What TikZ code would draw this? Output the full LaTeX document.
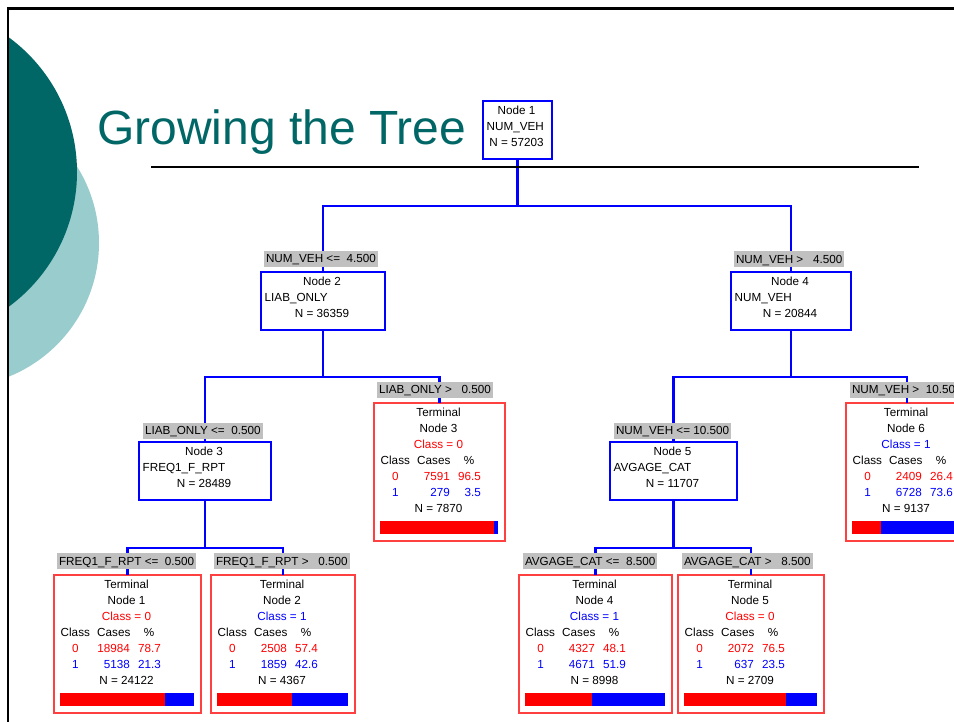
\documentclass[tikz,border=0pt]{standalone}
\usepackage{fontspec}
\setmainfont{Liberation Sans}

\definecolor{tealdark}{RGB}{0,102,102}
\definecolor{teallight}{RGB}{153,204,204}
\definecolor{lblgray}{RGB}{192,192,192}
\definecolor{treeblue}{RGB}{0,0,255}
\definecolor{treered}{RGB}{255,0,0}
\definecolor{termred}{RGB}{255,64,64}

\tikzset{
  txt/.style={inner sep=0pt, anchor=base, font=\fontsize{11.7}{14}\selectfont},
  splitbox/.style={draw=treeblue, line width=2.2pt, fill=white, inner sep=0pt, outer sep=0pt},
  termbox/.style={draw=termred, line width=1.3pt, fill=white, inner sep=0pt, outer sep=0pt},
  cond/.style={fill=lblgray, anchor=west, inner xsep=2pt, inner ysep=0pt,
    text height=8.5pt, text depth=0pt, minimum height=16pt, outer sep=0pt,
    font=\fontsize{11.7}{14}\selectfont},
  conn/.style={draw=treeblue, line width=2.2pt},
}

% split node: name, left, top, right, title, variable, count
\newcommand{\splitnode}[7]{%
  \pgfmathsetmacro\sL{#2}\pgfmathsetmacro\sT{#3}%
  \pgfmathsetmacro\sW{#4-#2}\pgfmathsetmacro\sC{(#2+#4)/2-1}%
  \node[splitbox, minimum width=\sW pt, minimum height=58pt, anchor=north west] (#1) at (\sL,\sT) {};
  \node[txt] (#1-id) at (\sC,\sT+13.5) {#5};
  \node[txt, anchor=base west] (#1-var) at (\sL+3.5,\sT+29.5) {#6};
  \node[txt] (#1-n) at (\sC,\sT+45.5) {#7};
}

% terminal node frame and fixed lines: name, left, top, right, number
\newcommand{\terminal}[5]{%
  \pgfmathsetmacro\tL{#2}\pgfmathsetmacro\tT{#3}\pgfmathsetmacro\tR{#4}%
  \pgfmathsetmacro\tW{#4-#2}\pgfmathsetmacro\tC{(#2+#4)/2-1}%
  \node[termbox, minimum width=\tW pt, minimum height=138pt, anchor=north west] (#1) at (\tL,\tT) {};
  \node[txt] (#1-a) at (\tC,\tT+13.5) {Terminal};
  \node[txt] (#1-b) at (\tC,\tT+29.5) {Node #5};
  \node[txt, anchor=base west] (#1-h1) at (\tL+6.5,\tT+61.5) {Class};
  \node[txt, anchor=base west] (#1-h2) at (\tL+43,\tT+61.5) {Cases};
  \node[txt] (#1-h3) at (\tL+95,\tT+61.5) {\%};
}

% terminal node contents: name, class colour, class, cases 0, pct 0, cases 1, pct 1, N, share of class 0
\newcommand{\termrows}[9]{%
  \node[txt, text=#2] (#1-c) at (\tC,\tT+45.5) {Class = #3};
  \node[txt, text=treered] (#1-r0a) at (\tL+21.5,\tT+77.5) {0};
  \node[txt, text=treered, anchor=base east] (#1-r0b) at (\tL+76,\tT+77.5) {#4};
  \node[txt, text=treered, anchor=base east] (#1-r0c) at (\tL+107,\tT+77.5) {#5};
  \node[txt, text=treeblue] (#1-r1a) at (\tL+21.5,\tT+93.5) {1};
  \node[txt, text=treeblue, anchor=base east] (#1-r1b) at (\tL+76,\tT+93.5) {#6};
  \node[txt, text=treeblue, anchor=base east] (#1-r1c) at (\tL+107,\tT+93.5) {#7};
  \node[txt] (#1-n) at (\tC,\tT+109.5) {N = #8};
  \pgfmathsetmacro\tS{\tL+6+#9*(\tW-13)}%
  \fill[treered] (\tL+6,\tT+118) rectangle (\tS,\tT+131);
  \fill[treeblue] (\tS,\tT+118) rectangle (\tR-7,\tT+131);
}

\begin{document}
\begin{tikzpicture}[x=1pt,y=-1pt]
\useasboundingbox (0,0) rectangle (954,721);
\clip (0,0) rectangle (954,721);
\fill[white] (0,0) rectangle (954,721);

% decorative discs at the left edge
\begin{scope}
  \clip (8,8) rectangle (300,721);
  \fill[teallight] (-45,243) circle[radius=144];
  \fill[tealdark] (-90,172) circle[radius=167];
\end{scope}

% slide frame
\draw[line width=2.6pt] (7,8.5) -- (960,8.5);
\draw[line width=2.6pt] (8,7) -- (8,730);

% title
\node[anchor=base west, inner sep=0pt, text=tealdark, font=\fontsize{48}{56}\selectfont]
  (title) at (97,144) {Growing the Tree};

% junction points of the branches
\coordinate (j1) at (517.5,206);
\coordinate (j2) at (323,377);
\coordinate (j3) at (205,548);
\coordinate (j4) at (791,377);
\coordinate (j5) at (673.5,548);

% split nodes
\splitnode{n1}{483}{101}{552}{Node 1}{NUM\_VEH}{N = 57203}
\splitnode{n2}{261}{272}{385}{Node 2}{LIAB\_ONLY}{N = 36359}
\splitnode{n4}{731}{272}{851}{Node 4}{NUM\_VEH}{N = 20844}
\splitnode{n3}{139}{442}{271}{Node 3}{FREQ1\_F\_RPT}{N = 28489}
\splitnode{n5}{610}{442}{737}{Node 5}{AVGAGE\_CAT}{N = 11707}

% terminal nodes
\terminal{t1}{54}{575}{201}{1}
\termrows{t1}{treered}{0}{18984}{78.7}{5138}{21.3}{24122}{0.787}
\terminal{t2}{211}{575}{355}{2}
\termrows{t2}{treeblue}{1}{2508}{57.4}{1859}{42.6}{4367}{0.574}
\terminal{t3}{374}{403}{505}{3}
\termrows{t3}{treered}{0}{7591}{96.5}{279}{3.5}{7870}{0.965}
\terminal{t4}{519}{575}{672}{4}
\termrows{t4}{treeblue}{1}{4327}{48.1}{4671}{51.9}{8998}{0.481}
\terminal{t5}{678}{575}{824}{5}
\termrows{t5}{treered}{0}{2072}{76.5}{637}{23.5}{2709}{0.765}
\terminal{t6}{846}{403}{968}{6}
\termrows{t6}{treeblue}{1}{2409}{26.4}{6728}{73.6}{9137}{0.264}

% branches
\draw[conn] (n1.south) -- (j1);
\draw[conn] (n2.north) |- (j1) -| (n4.north);
\draw[conn] (n2.south) -- (j2);
\draw[conn] (n3.north) |- (j2) -| (t3.north);
\draw[conn] (n3.south) -- (j3);
\draw[conn] (t1.north) |- (j3) -| (t2.north);
\draw[conn] (n4.south) -- (j4);
\draw[conn] (n5.north) |- (j4) -| (t6.north);
\draw[conn] (n5.south) -- (j5);
\draw[conn] (t4.north) |- (j5) -| (t5.north);

% rule under the title
\draw[line width=2pt] (151,167) -- (919,167);

% split conditions
\node[cond] (c2) at (264,258.5) {NUM\_VEH <=~~4.500};
\node[cond] (c4) at (734,259) {NUM\_VEH >~~~4.500};
\node[cond] (c3) at (143,430.5) {LIAB\_ONLY <=~~0.500};
\node[cond] (ct3) at (377,389.5) {LIAB\_ONLY >~~~0.500};
\node[cond] (c5) at (614,430.5) {NUM\_VEH <= 10.500};
\node[cond] (ct6) at (850,389.5) {NUM\_VEH >~~10.500};
\node[cond] (ct1) at (57,561) {FREQ1\_F\_RPT <=~~0.500};
\node[cond] (ct2) at (214,561) {FREQ1\_F\_RPT >~~~0.500};
\node[cond] (ct4) at (523,561) {AVGAGE\_CAT <=~~8.500};
\node[cond] (ct5) at (682,561) {AVGAGE\_CAT >~~~8.500};
\end{tikzpicture}
\end{document}
